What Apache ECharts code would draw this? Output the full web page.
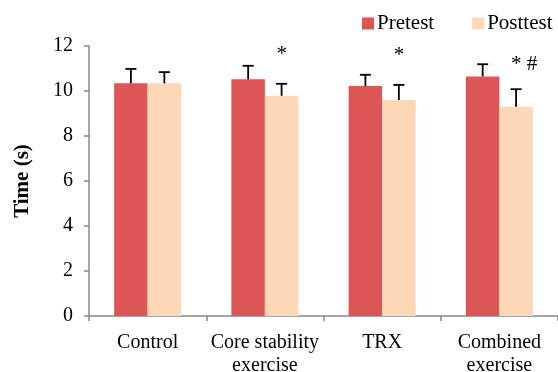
<!DOCTYPE html>
<html>
<head>
<meta charset="utf-8">
<script src="https://cdn.jsdelivr.net/npm/echarts@6/dist/echarts.min.js"></script>
<style>
  html, body { margin: 0; padding: 0; background: #fff; }
  #chart { width: 558px; height: 372px; }
</style>
</head>
<body>
<div id="chart"></div>
<script>
// data
var categories = ['Control', 'Core stability\nexercise', 'TRX', 'Combined\nexercise']
var pretest = [10.34, 10.52, 10.22, 10.65]
var posttest = [10.34, 9.79, 9.6, 9.3]
// upper end of the error bars
var pretestErr = [10.98, 11.12, 10.72, 11.19]
var posttestErr = [10.84, 10.32, 10.27, 10.08]
// significance marks above posttest bars
var marks = ['', '*', '*', '* #']
var markLevel = [0, 11.63, 11.6, 11.2]
var yTicks = { min: 0, max: 12, interval: 2 }

var red = '#dc5656'
var peach = '#fdd8b7'
var font = '"Liberation Serif", "DejaVu Serif", serif'

var chart = echarts.init(document.getElementById('chart'))

// upper whisker + cap, shifted onto the left or right bar
function errorBar(side) {
  return function (params, api) {
    var idx = api.value(0)
    var base = api.coord([idx, api.value(1)])
    var top = api.coord([idx, api.value(2)])
    var band = api.size([1, 0])[0]
    var x = base[0] + side * band * 0.1426
    var cap = 5.5
    var style = { stroke: '#000', lineWidth: 1.8 }
    return {
      type: 'group',
      children: [
        { type: 'line', shape: { x1: x, y1: base[1], x2: x, y2: top[1] }, style: style },
        { type: 'line', shape: { x1: x - cap, y1: top[1], x2: x + cap, y2: top[1] }, style: style }
      ]
    }
  }
}

function markItem(params, api) {
  var idx = api.value(0)
  var txt = marks[idx]
  if (!txt) return null
  var p = api.coord([idx, api.value(1)])
  var band = api.size([1, 0])[0]
  return {
    type: 'text',
    x: p[0] + band * 0.1426 - 5,
    y: p[1],
    style: {
      text: txt,
      fill: '#000',
      font: '21px ' + font,
      align: 'left',
      verticalAlign: 'middle'
    }
  }
}

var option = {
  animation: false,
  textStyle: { fontFamily: font },
  legend: {
    left: 357,
    top: 8,
    itemWidth: 12,
    itemHeight: 12,
    itemGap: 38,
    icon: 'rect',
    textStyle: { fontSize: 21, color: '#000', fontFamily: font, padding: [0, 0, 0, -2] },
    data: ['Pretest', 'Posttest']
  },
  grid: { left: 89, right: 0, top: 46, bottom: 56, outerBoundsMode: 'none', containLabel: false },
  xAxis: {
    type: 'category',
    data: categories,
    axisLine: { lineStyle: { color: '#888', width: 1.5 } },
    axisTick: { show: true, length: 5, lineStyle: { color: '#888', width: 1.5 } },
    axisLabel: { color: '#000', fontSize: 20, fontFamily: font, lineHeight: 23, margin: 15, interval: 0 }
  },
  yAxis: {
    type: 'value',
    min: yTicks.min,
    max: yTicks.max,
    interval: yTicks.interval,
    name: 'Time (s)',
    nameLocation: 'middle',
    nameGap: 56,
    nameTextStyle: { color: '#000', fontSize: 21, fontWeight: 'bold', fontFamily: font },
    axisLine: { show: true, lineStyle: { color: '#888', width: 1.5 } },
    axisTick: { show: true, length: 5, lineStyle: { color: '#888', width: 1.5 } },
    axisLabel: { color: '#000', fontSize: 20, fontFamily: font, margin: 16 },
    splitLine: { show: false }
  },
  series: [
    {
      name: 'Pretest',
      type: 'bar',
      data: pretest,
      barWidth: 33.5,
      barGap: '0%',
      itemStyle: { color: red }
    },
    {
      name: 'Posttest',
      type: 'bar',
      data: posttest,
      barWidth: 33.5,
      itemStyle: { color: peach }
    },
    {
      type: 'custom',
      renderItem: errorBar(-1),
      data: pretest.map(function (v, i) { return [i, v, pretestErr[i]] }),
      z: 10
    },
    {
      type: 'custom',
      renderItem: errorBar(1),
      data: posttest.map(function (v, i) { return [i, v, posttestErr[i]] }),
      z: 10
    },
    {
      type: 'custom',
      renderItem: markItem,
      data: markLevel.map(function (v, i) { return [i, v] }),
      z: 10
    }
  ]
}

chart.setOption(option)
</script>
</body>
</html>
